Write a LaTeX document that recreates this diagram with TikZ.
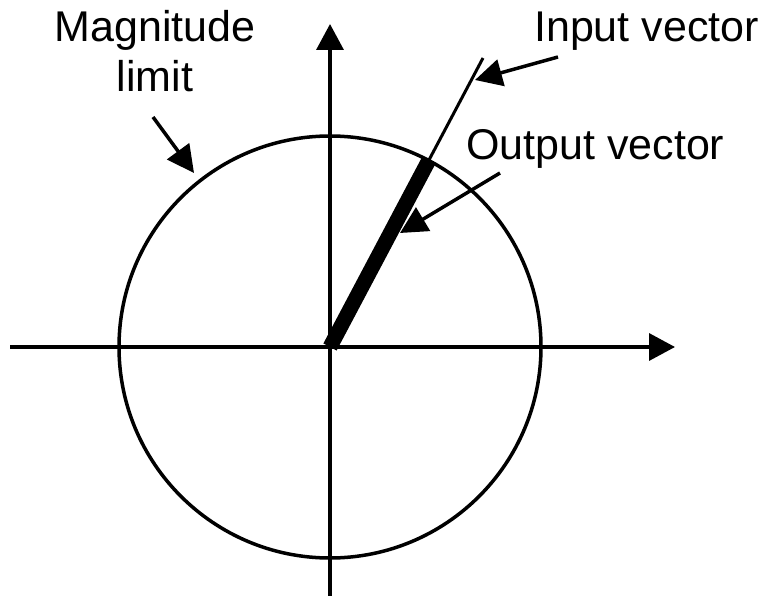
\documentclass[tikz,border=0pt]{standalone}
\usepackage{fontspec}
\setmainfont{Liberation Sans}
\usetikzlibrary{arrows.meta,calc}
\begin{document}
\begin{tikzpicture}[x=1pt,y=-1pt,
  axis/.style={line width=3.5pt,-{Triangle[length=26pt,width=27pt]}},
  pointer/.style={line width=3.5pt,-{Triangle[length=27pt,width=27pt]}},
  lbl/.style={font=\fontsize{43}{50}\selectfont,inner sep=0pt}]
\useasboundingbox (0,0) rectangle (768,596);
\coordinate (O) at (330,347);
\coordinate (L) at (10,347);
\coordinate (R) at (675,347);
\coordinate (B) at (330,596);
\coordinate (T) at (330,24);
\coordinate (I) at (483,58);
\coordinate (C) at ($(O)!212pt!(I)$);
% circle
\draw[line width=3.5pt] (O) circle[radius=211];
% axes
\draw[axis] (L) -- (R);
\draw[axis] (B) -- (T);
% input vector
\draw[line width=3pt] (O) -- (I);
% output vector
\draw[line width=15pt] (O) -- (C);
% labels
\node[lbl,anchor=base,align=center] (mag) at (155,92) {Magnitude\\limit};
\node[lbl,anchor=base west] (inp) at (534,42) {Input vector};
\node[lbl,anchor=base west] (out) at (466,160) {Output vector};
% pointers
\coordinate (m1) at (153,117);
\coordinate (m2) at (194,173);
\coordinate (i1) at (558,57);
\coordinate (i2) at (475,80);
\coordinate (o1) at (500,173);
\coordinate (o2) at (400,233);
\draw[pointer] (m1) -- (m2);
\draw[pointer] (i1) -- (i2);
\draw[pointer] (o1) -- (o2);
\end{tikzpicture}
\end{document}
